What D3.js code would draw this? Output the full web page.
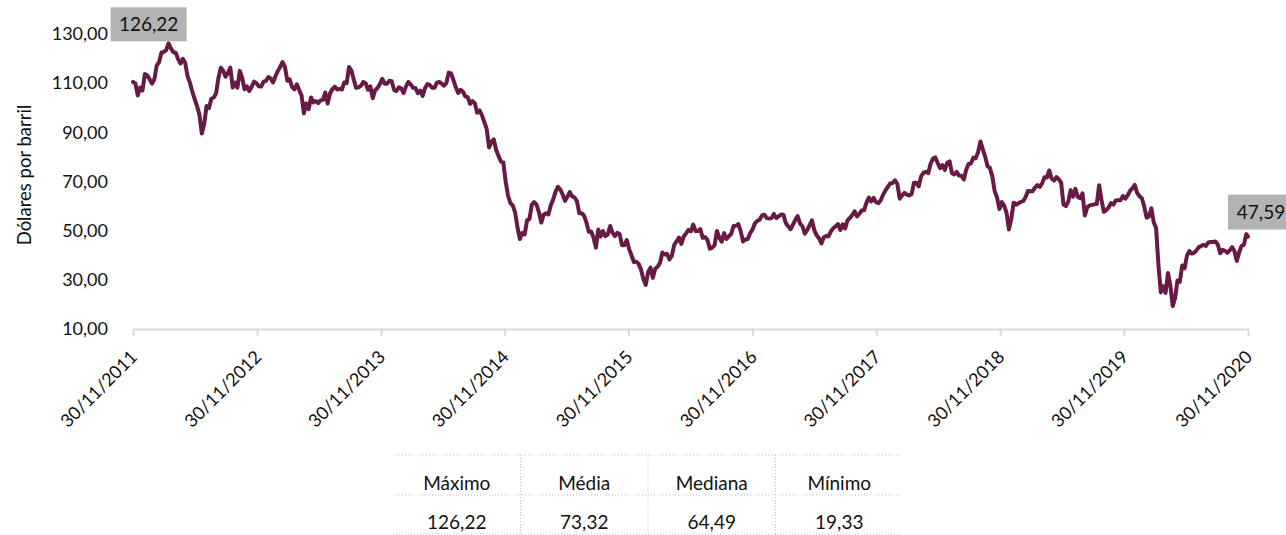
<!DOCTYPE html>
<html><head><meta charset="utf-8">
<script src="https://cdn.jsdelivr.net/npm/d3@7/dist/d3.min.js"></script>
<style>
body{margin:0;background:#fff}
svg{display:block}
text{font-family:Lato,"Open Sans",sans-serif;fill:#111}
</style>
</head><body>
<svg id="chart" width="1286" height="535"></svg>
<script>
// ---- DATA (weekly Brent closes, Wednesdays, starting 30/11/2011) ----
const startDate = "2011-11-30";
const p2012 = [110.5,109.9,105.0,108.2,107.0,113.7,113.2,111.6,109.8,111.6,117.2,118.6,122.5,122.7,123.5,126.22,124.1,122.6,122.4,119.8,118.0,119.9,118.2,112.7,110.1,106.5,103.5,100.6,97.1,89.5,93.5,100.7,99.9,103.7,104.2,105.9,112.2,116.3,115.1,112.6,114.2,116.3,108.2,110.2,108.2,115.0,112.1,107.5,108.7,106.8,108.5,110.6];
const p2013 = [110.0,108.7,108.6,110.6,110.9,112.5,111.9,110.3,112.8,114.9,116.6,118.6,116.6,111.0,111.6,108.5,107.5,109.5,107.2,105.0,97.7,101.8,99.4,104.2,102.2,102.7,101.9,103.0,103.2,106.2,101.7,105.8,107.6,108.6,107.4,107.7,107.4,110.3,110.0,116.6,115.1,111.5,108.1,108.3,108.9,110.5,110.0,107.3,108.7,103.9,107.1,108.0];
const p2014 = [109.6,111.8,109.8,109.8,111.0,110.8,107.2,106.8,108.3,107.9,106.0,108.7,110.5,109.5,108.1,108.0,105.9,107.0,104.8,107.9,109.6,109.3,108.1,108.1,110.2,110.5,109.8,109.0,110.0,114.3,114.0,111.2,108.3,106.0,107.3,106.5,104.6,104.3,101.6,102.7,101.8,98.0,98.9,96.9,94.2,91.4,83.8,86.2,87.1,82.8,80.4,78.1];
const p2015 = [77.8,69.9,64.2,61.2,60.2,57.3,51.2,46.6,49.0,48.5,54.2,54.7,60.5,61.6,60.6,57.5,53.3,56.5,57.1,56.6,60.3,62.7,65.8,67.8,66.8,64.7,62.1,63.8,65.7,64.0,63.5,62.0,57.1,57.1,56.1,53.4,49.6,49.7,47.2,43.1,50.5,47.6,49.8,47.8,48.4,51.9,49.2,47.8,49.1,48.6,44.1,44.1];
const p2016 = [46.2,42.5,40.0,37.2,37.4,36.5,34.2,30.3,27.9,33.1,35.0,30.8,34.5,35.3,36.9,41.1,40.3,40.5,38.3,39.8,44.2,45.6,47.2,44.6,47.6,48.9,50.3,49.7,52.5,49.8,49.9,50.6,47.1,47.4,46.2,42.7,43.1,44.1,49.9,47.1,45.5,49.0,46.6,47.7,48.7,51.9,52.0,52.7,49.8,45.6,46.4,46.6];
const p2017 = [49.0,50.5,53.0,54.0,54.5,56.2,56.5,55.1,54.9,55.1,56.8,55.1,55.8,56.6,56.5,53.1,51.8,50.6,52.4,54.4,55.9,52.9,51.8,48.8,50.2,52.2,54.2,50.3,48.1,46.9,44.8,47.3,47.8,47.7,49.7,51.0,51.8,52.7,50.3,52.6,50.9,54.2,55.2,56.3,57.9,55.8,56.9,58.2,58.4,61.4,63.5,61.9];
const p2018 = [63.3,61.6,61.2,62.4,64.6,66.4,67.8,69.2,69.4,70.5,69.0,63.0,64.4,65.4,64.7,64.3,64.9,69.5,69.5,68.0,72.1,73.5,74.0,73.4,77.2,79.3,79.8,77.5,75.4,76.7,74.7,77.6,78.2,73.4,72.9,73.9,72.4,72.3,70.8,74.8,77.1,77.3,79.7,79.4,81.9,86.3,83.1,80.1,76.2,75.5,72.1,66.1,63.5];
const p2019 = [58.8,61.6,60.2,57.2,50.5,54.9,61.4,60.6,61.1,61.7,62.0,63.6,66.1,66.0,66.0,67.6,68.5,67.8,69.3,71.7,71.6,74.5,71.2,70.4,71.8,70.9,69.5,60.6,60.0,61.8,66.5,63.8,67.0,63.7,63.2,65.2,56.2,59.5,60.3,60.5,60.7,60.8,68.5,62.4,57.7,58.3,59.4,61.2,60.6,62.3,62.4,62.4];
const p2020 = [64.1,63.0,64.3,66.2,67.2,68.6,65.4,64.0,63.2,59.8,55.3,55.8,59.1,53.4,51.1,35.8,24.9,27.4,24.7,32.8,27.7,19.33,22.5,29.7,29.2,35.8,34.7,39.8,41.7,40.7,41.0,42.0,43.3,43.8,44.3,43.8,45.2,45.4,45.4,45.6,44.4,40.8,42.2,41.8,41.0,42.0,43.3,41.7,37.7,41.2,43.8,44.3,48.6];
const lastDate = "2020-11-30";
const lastValue = 47.59;

const xTickLabels = ["30/11/2011","30/11/2012","30/11/2013","30/11/2014","30/11/2015","30/11/2016","30/11/2017","30/11/2018","30/11/2019","30/11/2020"];
const yTickValues = [10,30,50,70,90,110,130];
const yTitle = "Dólares por barril";
const statHeaders = ["Máximo","Média","Mediana","Mínimo"];
const statValues = ["126,22","73,32","64,49","19,33"];

// ---- BUILD ----
const parseISO = d3.timeParse("%Y-%m-%d");
const parseBR = d3.timeParse("%d/%m/%Y");
const locale = d3.formatLocale({decimal:",",thousands:".",grouping:[3],currency:["",""]});
const fmt2 = locale.format(".2f");

const weekly = [].concat(p2012,p2013,p2014,p2015,p2016,p2017,p2018,p2019,p2020);
const t0 = parseISO(startDate);
const data = weekly.map((v,i)=>({date:d3.timeDay.offset(t0,7*i), value:v}));
data.push({date:parseISO(lastDate), value:lastValue});

const svg = d3.select("#chart");
const x = d3.scaleTime().domain([parseISO(startDate), parseISO(lastDate)]).range([133,1248]);
const y = d3.scaleLinear().domain([10,130]).range([329,34]);

// x axis
const xTicks = xTickLabels.map(parseBR);
const xAxis = svg.append("g").attr("transform","translate(0,329)")
  .call(d3.axisBottom(x).tickValues(xTicks).tickSize(7).tickSizeOuter(0).tickFormat(d3.timeFormat("%d/%m/%Y")));
xAxis.select(".domain").attr("stroke","#D9D9D9").attr("stroke-width",2);
xAxis.selectAll(".tick line").attr("stroke","#D9D9D9").attr("stroke-width",2);
xAxis.selectAll(".tick text")
  .attr("font-size",18).attr("fill","#111")
  .attr("text-anchor","end").attr("dy",0).attr("y",0)
  .attr("transform","translate(5,29) rotate(-45)");

// y axis (labels only)
const yAxis = svg.append("g").attr("transform","translate(108,0)")
  .call(d3.axisLeft(y).tickValues(yTickValues).tickSize(0).tickPadding(0).tickFormat(fmt2));
yAxis.select(".domain").remove();
yAxis.selectAll(".tick text").attr("font-size",18).attr("fill","#111");

svg.append("text").attr("transform","translate(31,175) rotate(-90)")
  .attr("text-anchor","middle").attr("font-size",18.5).text(yTitle);

// line
svg.append("path").datum(data)
  .attr("fill","none").attr("stroke","#661A45").attr("stroke-width",4)
  .attr("stroke-linejoin","round").attr("stroke-linecap","round")
  .attr("d", d3.line().x(d=>x(d.date)).y(d=>y(d.value)));

// data labels
const maxPt = d3.greatest(data, d=>d.value);
const lastPt = data[data.length-1];
function boxLabel(pt, dx, dy, w, h){
  const g = svg.append("g").attr("transform",`translate(${x(pt.date)+dx},${y(pt.value)+dy})`);
  g.append("rect").attr("width",w).attr("height",h).attr("fill","#B3B3B3");
  g.append("text").attr("x",w/2).attr("y",h/2).attr("dy","0.36em")
    .attr("text-anchor","middle").attr("font-size",19).text(fmt2(pt.value));
}
boxLabel(maxPt, -58, -36, 76, 34);
boxLabel(lastPt, -20, -42, 66, 35);

// stats table
const col = d3.scaleBand().domain(statHeaders).range([393,903]);
const rowY = [455,495,534];
const tbl = svg.append("g");
rowY.forEach(yy=>tbl.append("line").attr("x1",393).attr("x2",903).attr("y1",yy).attr("y2",yy)
  .attr("stroke","#BFBFBF").attr("stroke-width",1).attr("stroke-dasharray","1,2"));
statHeaders.slice(1).forEach(h=>tbl.append("line").attr("x1",col(h)).attr("x2",col(h))
  .attr("y1",rowY[0]).attr("y2",rowY[2]).attr("stroke","#BFBFBF").attr("stroke-width",1).attr("stroke-dasharray","1,2"));
statHeaders.forEach((h,i)=>{
  const cx = col(h)+col.bandwidth()/2;
  tbl.append("text").attr("x",cx).attr("y",490).attr("text-anchor","middle").attr("font-size",19).text(h);
  tbl.append("text").attr("x",cx).attr("y",529).attr("text-anchor","middle").attr("font-size",19).text(statValues[i]);
});
</script>
</body></html>
